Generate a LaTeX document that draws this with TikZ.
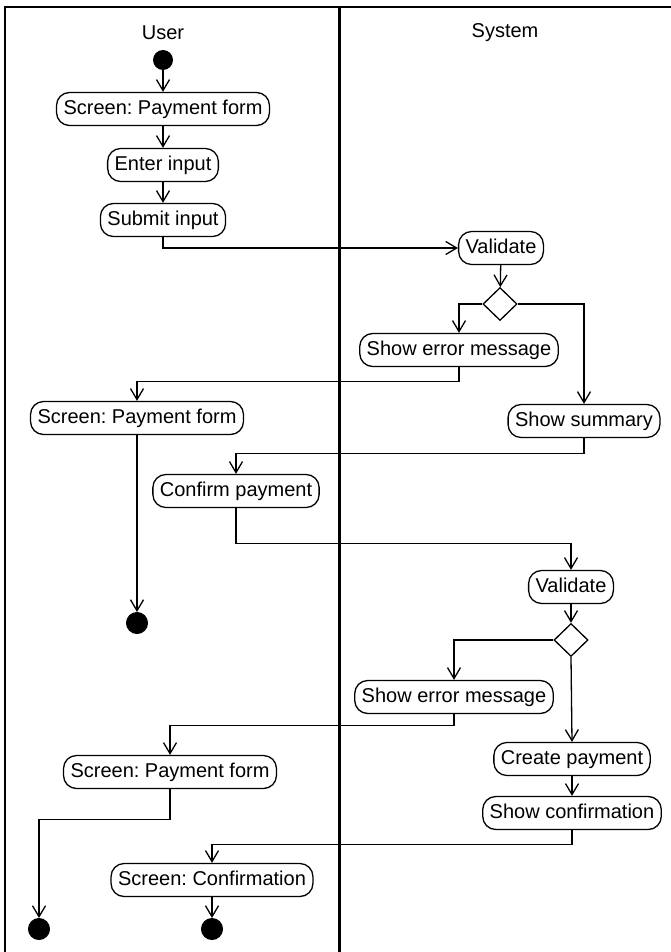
\documentclass[tikz,border=0pt]{standalone}
\usepackage{fontspec}
\setmainfont{Liberation Sans}
\usetikzlibrary{arrows.meta,shapes.geometric}
\frenchspacing
\begin{document}
\begin{tikzpicture}[x=1pt,y=-1pt,
  font=\fontsize{20}{24}\selectfont,
  act/.style={draw,line width=1.3pt,rounded corners=13pt,minimum height=33pt,inner xsep=7pt,inner ysep=0pt,text height=14.5pt,text depth=4pt},
  dec/.style={draw,line width=1.3pt,diamond,minimum width=34pt,minimum height=33pt,inner sep=0pt},
  startnode/.style={circle,fill=black,minimum size=20pt,inner sep=0pt},
  endnode/.style={circle,fill=black,draw=black,line width=1pt,minimum size=21pt,inner sep=0pt},
  flow/.style={line width=1.3pt,-{Straight Barb[length=11pt,width=13pt,line width=1.3pt]}}]
\useasboundingbox (0,0) rectangle (671,952);
% frame
\draw[line width=2pt] (671,7) -- (4.5,7) -- (4.5,952);
\draw[line width=3pt] (339,7) -- (339,952);
\node (luser) at (163,33) {User};
\node (lsys) at (505,33) {System};
% nodes
\node[startnode] (start) at (163,60) {};
\node[act] (sp1) at (163,109) {Screen: Payment form};
\node[act] (enter) at (163,165) {Enter input};
\node[act] (submit) at (163,220) {Submit input};
\node[act] (val1) at (501,248) {Validate};
\node[dec] (d1) at (500,304) {};
\node[act] (err1) at (459,350) {Show error message};
\node[act] (sum) at (584,421) {Show summary};
\node[act] (sp2) at (137,418) {Screen: Payment form};
\node[act] (conf) at (236,491) {Confirm payment};
\node[endnode] (end1) at (137,623) {};
\node[act] (val2) at (571,587) {Validate};
\node[dec] (d2) at (571,640) {};
\node[act] (err2) at (454,697) {Show error message};
\node[act] (create) at (572,759) {Create payment};
\node[act] (showc) at (572,813) {Show confirmation};
\node[act] (sp3) at (170,772) {Screen: Payment form};
\node[act] (sconf) at (212,880) {Screen: Confirmation};
\node[endnode] (end3) at (39,929) {};
\node[endnode] (end4) at (212,929) {};
% connectors
\draw[flow] (start) -- (sp1);
\draw[flow] (sp1) -- (enter);
\draw[flow] (enter) -- (submit);
\draw[flow] (submit.south) |- (val1.west);
\draw[flow] (val1) -- (d1);
\draw[flow] (d1.west) -| (err1.north);
\draw[flow] (d1.east) -| (sum.north);
\draw[flow] (err1.south) -- ++(0,14) -| (sp2.north);
\draw[flow] (sum.south) -- ++(0,15) -| (conf.north);
\draw[flow] (sp2.south) -- (end1.north);
\draw[flow] (conf.south) -- ++(0,35) -| (val2.north);
\draw[flow] (val2) -- (d2);
\draw[flow] (d2.west) -| (err2.north);
\draw[flow] (d2.south) -- (create.north);
\draw[flow] (create) -- (showc);
\draw[flow] (err2.south) -- ++(0,11) -| (sp3.north);
\draw[flow] (sp3.south) -- ++(0,30) -| (end3.north);
\draw[flow] (showc.south) -- ++(0,14) -| (sconf.north);
\draw[flow] (sconf) -- (end4);
\end{tikzpicture}
\end{document}
